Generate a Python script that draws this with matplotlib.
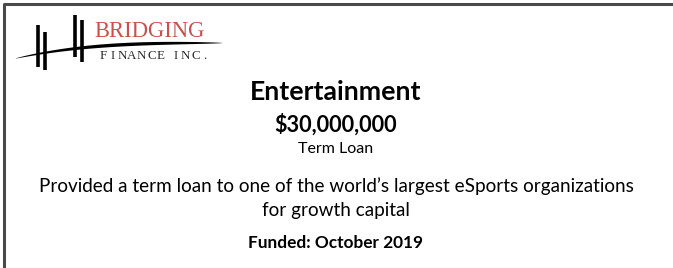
import matplotlib.pyplot as plt
import numpy as np

plt.rcParams['font.family'] = ['Lato', 'DejaVu Sans']

# card text
sector = "Entertainment"
amount = "$30,000,000"
loan_type = "Term Loan"
desc_lines = ["Provided a term loan to one of the world\u2019s largest eSports organizations",
              "for growth capital"]
funded = "Funded: October 2019"
brand = "BRIDGING"
brand_sub = ["FINANCE", "INC."]

W, H = 673, 268
fig = plt.figure(figsize=(W / 100, H / 100), dpi=100)
ax = fig.add_axes([0, 0, 1, 1])
ax.set_xlim(0, W)
ax.set_ylim(H, 0)
ax.axis('off')

# border (left + top only, bottom/right cut off)
ax.plot([3.5, 3.5, W], [H, 3.5, 3.5], color='#4a4a4a', lw=2.2, solid_capstyle='butt')

# logo: swoosh, rising then flattening
t = np.linspace(0, 1, 300)
sx = 15 + 207 * t
sy = 42.5 + 15.5 * (1 - t) ** 3
thick = 1.7 * np.sin(np.pi * t) ** 0.6
ax.fill_between(sx, sy - thick, sy + thick, color='black', lw=0)

# logo: vertical posts
posts_x = [38, 45, 75, 82]
posts_top = [25, 32, 15, 20]
posts_bot = [67, 70, 57, 62]
for x, y0, y1 in zip(posts_x, posts_top, posts_bot):
    ax.plot([x, x], [y0, y1], color='black', lw=2.6, solid_capstyle='butt')

ax.text(94, 37, brand, fontsize=16.3, color='#c8504f', family='Liberation Serif',
        va='baseline', ha='left')
# spaced-out subtitle, one letter at a time
for word, (x0, x1) in zip(brand_sub, [(103, 161), (176, 205)]):
    for x, ch in zip(np.linspace(x0, x1, len(word)), word):
        ax.text(x, 59, ch, fontsize=9.4, color='#2a2a2a', family='Liberation Serif',
                va='baseline', ha='center')

cx = 336
ax.text(cx, 100, sector, fontsize=19.2, fontweight='bold', ha='center', va='baseline')
ax.text(cx, 132, amount, fontsize=15.6, fontweight='bold', ha='center', va='baseline')
ax.text(cx, 153, loan_type, fontsize=11.5, ha='center', va='baseline')
ax.text(cx, 192, desc_lines[0], fontsize=13.6, ha='center', va='baseline')
ax.text(cx, 216, desc_lines[1], fontsize=13.6, ha='center', va='baseline')
ax.text(cx, 248, funded, fontsize=12.4, fontweight='bold', ha='center', va='baseline')

fig.savefig('out.png', dpi=100, facecolor='white')
